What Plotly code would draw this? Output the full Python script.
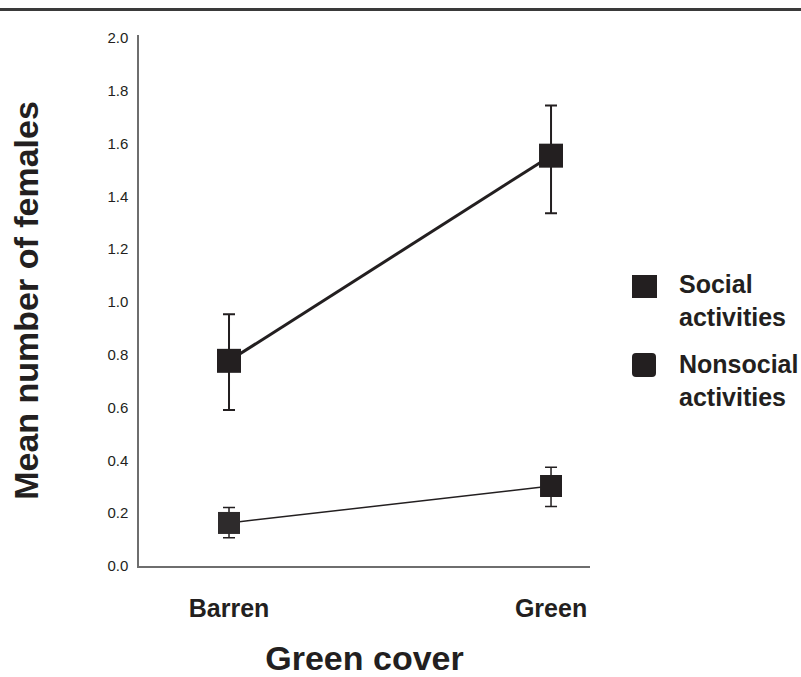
import plotly.graph_objects as go

categories = ["Barren", "Green"]
social_mean = [0.777, 1.554]
social_err_plus = [0.176, 0.19]
social_err_minus = [0.186, 0.218]
nonsocial_mean = [0.163, 0.303]
nonsocial_err_plus = [0.059, 0.071]
nonsocial_err_minus = [0.056, 0.078]
y_tick_vals = [0.0, 0.2, 0.4, 0.6, 0.8, 1.0, 1.2, 1.4, 1.6, 1.8, 2.0]
y_tick_text = ["0.0", "0.2", "0.4", "0.6", "0.8", "1.0", "1.2", "1.4", "1.6", "1.8", "2.0"]
legend_labels = ["Social<br>activities", "Nonsocial<br>activities"]

INK = "#231f20"
AXIS = "#6e6e6e"
FONT = "Liberation Sans, Arial, Helvetica, sans-serif"

fig = go.Figure()

fig.add_trace(go.Scatter(
    x=categories, y=social_mean, mode="lines+markers", name="Social activities",
    line=dict(color=INK, width=3),
    marker=dict(symbol="square", size=24, color=INK),
    error_y=dict(type="data", symmetric=False, array=social_err_plus,
                 arrayminus=social_err_minus, color=INK, thickness=2, width=6),
    showlegend=False,
))
fig.add_trace(go.Scatter(
    x=categories, y=nonsocial_mean, mode="lines+markers", name="Nonsocial activities",
    line=dict(color=INK, width=1.5),
    marker=dict(symbol="square", size=22, color=["#2e2b2c", INK]),
    error_y=dict(type="data", symmetric=False, array=nonsocial_err_plus,
                 arrayminus=nonsocial_err_minus, color=INK, thickness=1.5, width=6),
    showlegend=False,
))

W, H = 801, 677
L, R, T, B = 139, 211, 35, 111
pw, ph = W - L - R, H - T - B

def px(xp):
    return (xp - L) / pw

def py(yp):
    return (H - B - yp) / ph

shapes = [
    # top rule
    dict(type="line", xref="paper", yref="paper", x0=px(0), x1=px(W), y0=py(9.5), y1=py(9.5),
         line=dict(color="#3a3a3a", width=3)),
    # legend swatch: social (sharp square)
    dict(type="rect", xref="paper", yref="paper", x0=px(632), x1=px(657), y0=py(298), y1=py(275),
         line=dict(width=0), fillcolor=INK),
]
# legend swatch: nonsocial (rounded square)
x0, x1, y0, y1, r = 632, 656, 353, 377, 4
def P(x, y):
    return f"{px(x):.5f},{py(y):.5f}"
path = (f"M {P(x0 + r, y0)} L {P(x1 - r, y0)} Q {P(x1, y0)} {P(x1, y0 + r)} "
        f"L {P(x1, y1 - r)} Q {P(x1, y1)} {P(x1 - r, y1)} "
        f"L {P(x0 + r, y1)} Q {P(x0, y1)} {P(x0, y1 - r)} "
        f"L {P(x0, y0 + r)} Q {P(x0, y0)} {P(x0 + r, y0)} Z")
shapes.append(dict(type="path", xref="paper", yref="paper", path=path,
                   line=dict(width=0), fillcolor=INK))

annotations = [
    dict(text=legend_labels[0], xref="paper", yref="paper", x=px(677), y=py(300),
         xanchor="left", yanchor="middle", align="left", showarrow=False,
         font=dict(family=FONT, size=25, color=INK, weight="bold")),
    dict(text=legend_labels[1], xref="paper", yref="paper", x=px(677), y=py(380),
         xanchor="left", yanchor="middle", align="left", showarrow=False,
         font=dict(family=FONT, size=25, color=INK, weight="bold")),
]

fig.update_layout(
    width=W, height=H,
    margin=dict(l=L, r=R, t=T, b=B, pad=0),
    paper_bgcolor="white", plot_bgcolor="white",
    template="none",
    font=dict(family=FONT, color=INK),
    shapes=shapes, annotations=annotations,
    showlegend=False,
    xaxis=dict(
        type="category", range=[-0.2795, 1.121],
        showgrid=False, zeroline=False, showline=True, linecolor=AXIS, linewidth=1.5,
        ticks="", ticklabelstandoff=19,
        tickfont=dict(family=FONT, size=25, color=INK, weight="bold"),
        title=dict(text="Green cover", standoff=33,
                   font=dict(family=FONT, size=34, color=INK, weight="bold")),
        automargin=False,
    ),
    yaxis=dict(
        range=[0, 2.011], tickvals=y_tick_vals, ticktext=y_tick_text,
        showgrid=False, zeroline=False, showline=True, linecolor=AXIS, linewidth=1.5,
        ticks="", ticklabelstandoff=6,
        tickfont=dict(family=FONT, size=15, color=INK),
        title=dict(text="Mean number of females", standoff=58,
                   font=dict(family=FONT, size=34, color=INK, weight="bold")),
        automargin=False,
    ),
)

fig.write_html("out.html", config={"displayModeBar": False},
               post_script="document.body.style.margin='0';")
